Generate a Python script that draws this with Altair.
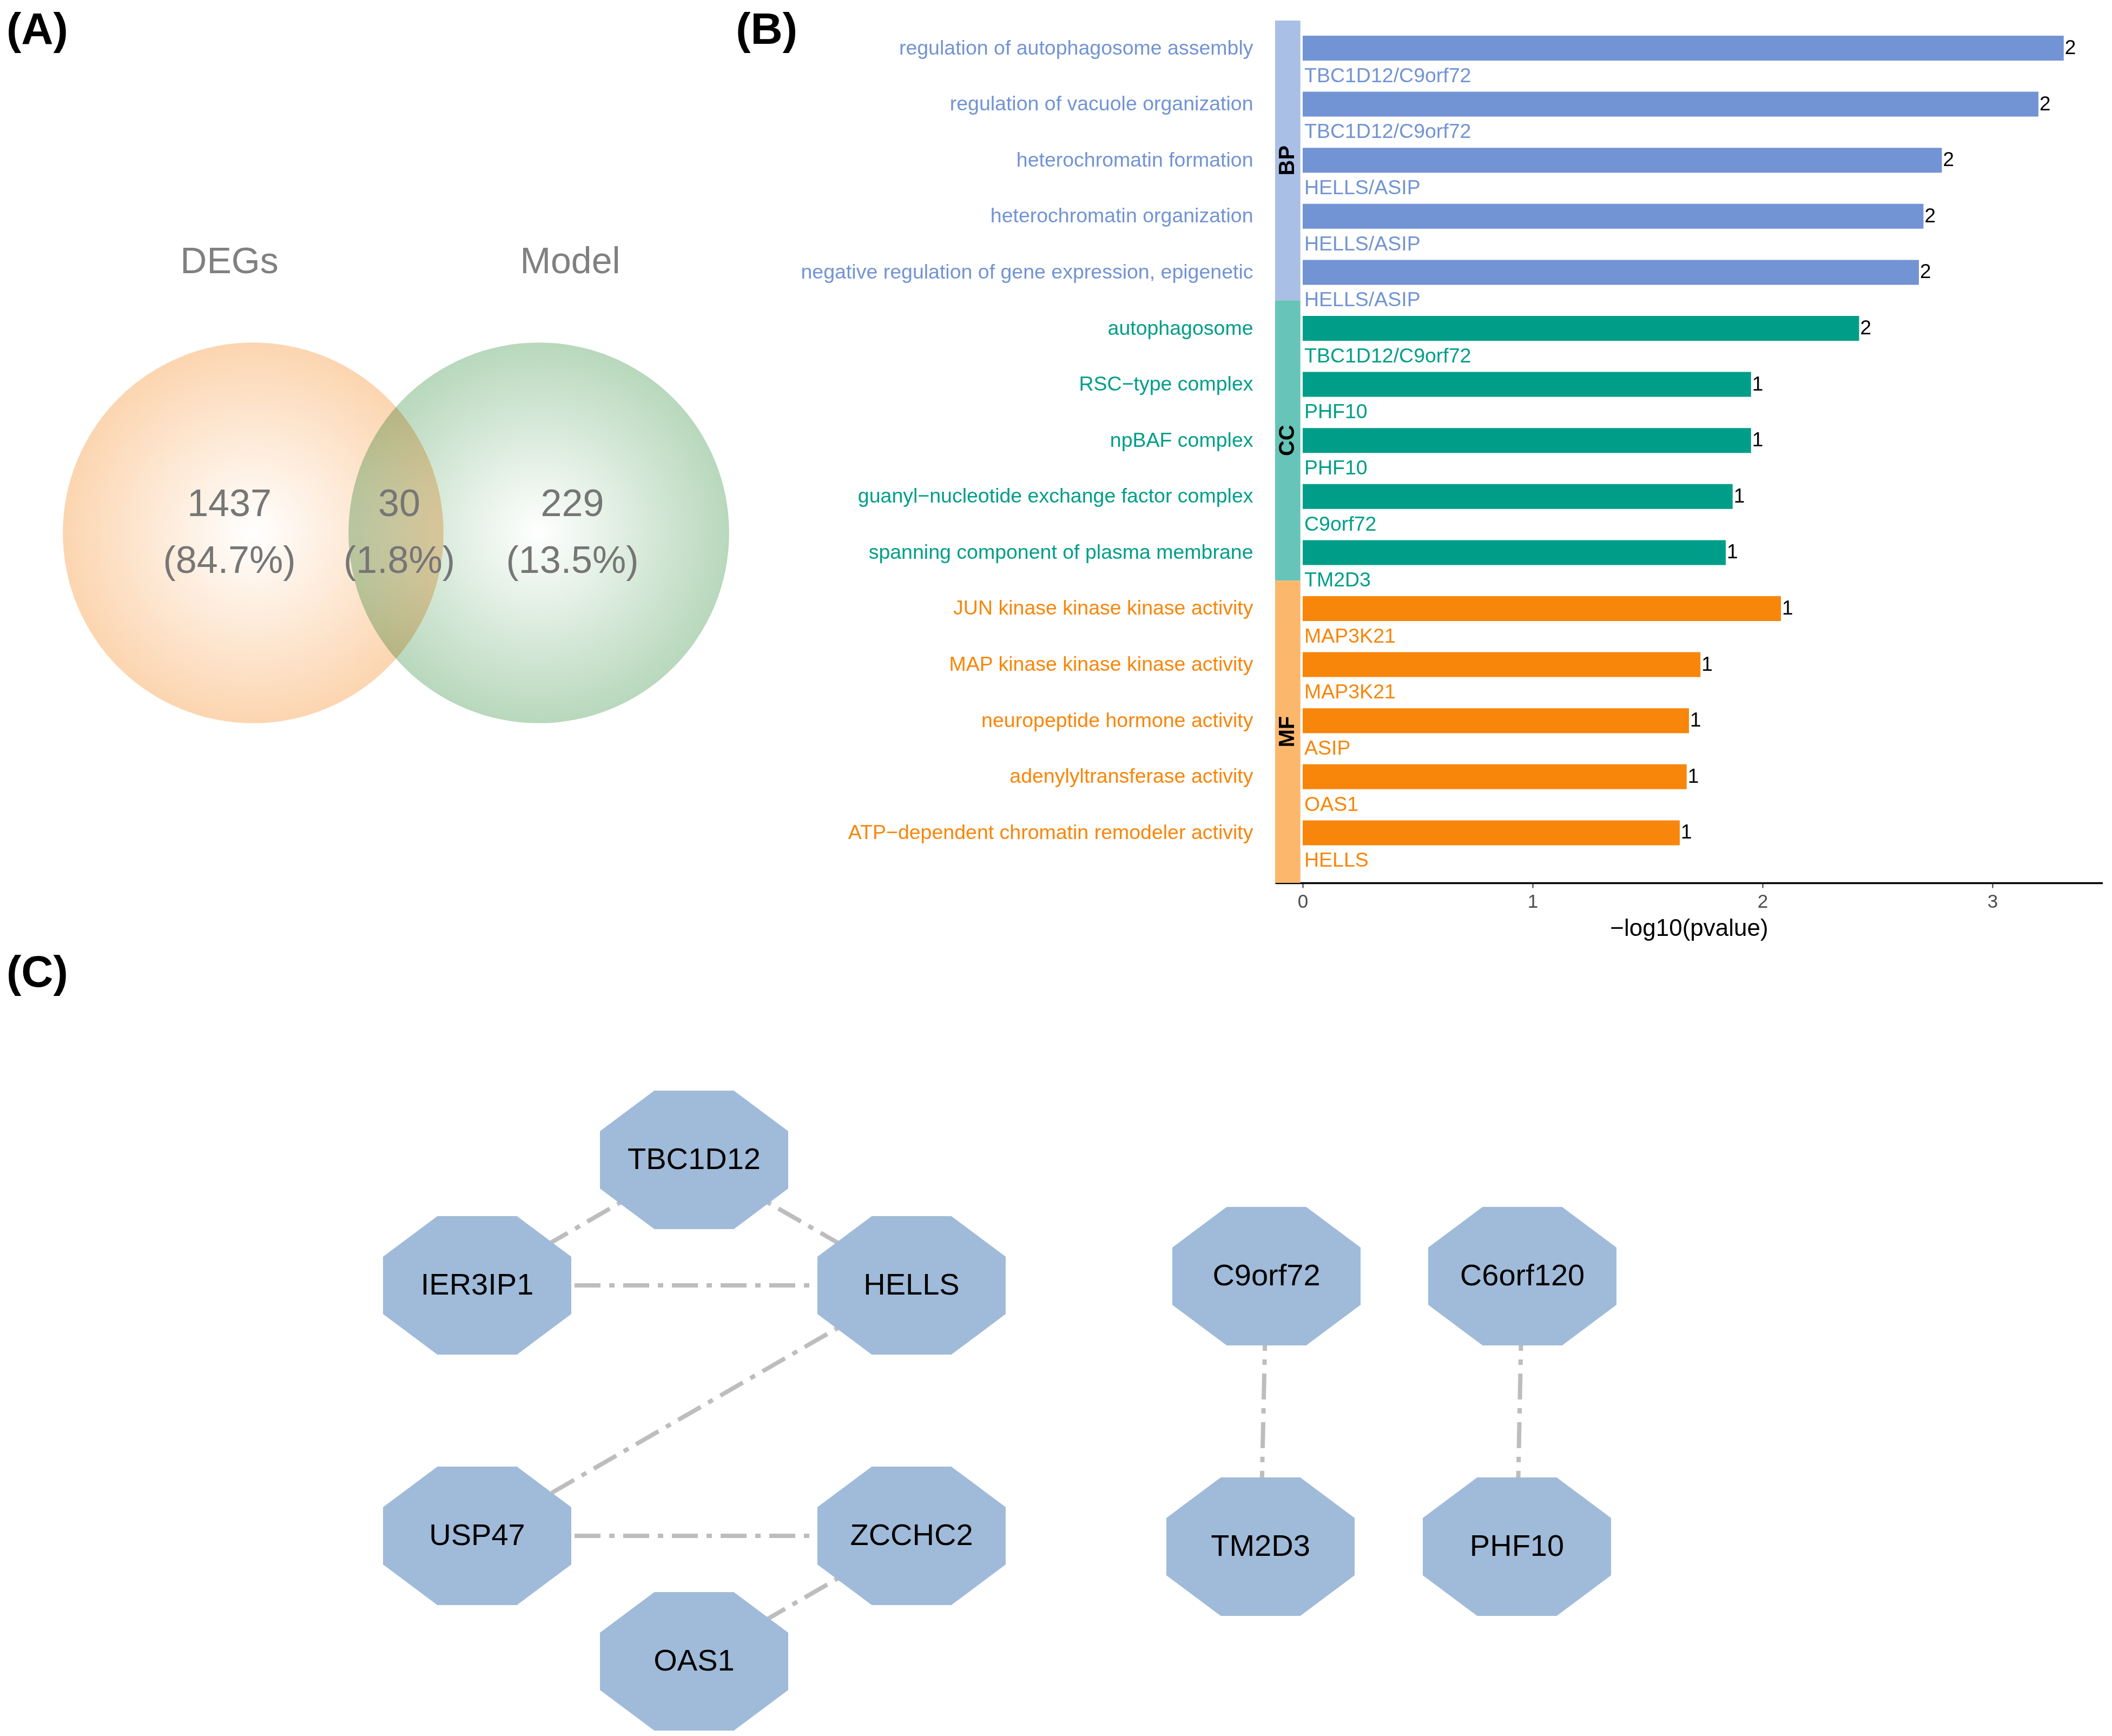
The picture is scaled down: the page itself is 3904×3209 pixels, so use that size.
import json
import altair as alt
import pandas as pd

FONT = "Liberation Sans"

# ---------------- data ----------------
# (A) Venn diagram
venn_set_names = ["DEGs", "Model"]
venn_region_counts = ["1437", "30", "229"]
venn_region_percents = ["(84.7%)", "(1.8%)", "(13.5%)"]

# (B) GO enrichment (top to bottom)
go_terms = [
    "regulation of autophagosome assembly",
    "regulation of vacuole organization",
    "heterochromatin formation",
    "heterochromatin organization",
    "negative regulation of gene expression, epigenetic",
    "autophagosome",
    "RSC\u2212type complex",
    "npBAF complex",
    "guanyl\u2212nucleotide exchange factor complex",
    "spanning component of plasma membrane",
    "JUN kinase kinase kinase activity",
    "MAP kinase kinase kinase activity",
    "neuropeptide hormone activity",
    "adenylyltransferase activity",
    "ATP\u2212dependent chromatin remodeler activity",
]
go_ontology = ["BP"] * 5 + ["CC"] * 5 + ["MF"] * 5
go_neglog10p = [3.31, 3.20, 2.78, 2.70, 2.68, 2.42, 1.95, 1.95, 1.87, 1.84,
                2.08, 1.73, 1.68, 1.67, 1.64]
go_counts = [2, 2, 2, 2, 2, 2, 1, 1, 1, 1, 1, 1, 1, 1, 1]
go_genes = ["TBC1D12/C9orf72", "TBC1D12/C9orf72", "HELLS/ASIP", "HELLS/ASIP",
            "HELLS/ASIP", "TBC1D12/C9orf72", "PHF10", "PHF10", "C9orf72",
            "TM2D3", "MAP3K21", "MAP3K21", "ASIP", "OAS1", "HELLS"]

# (C) PPI network
node_names = ["TBC1D12", "IER3IP1", "HELLS", "USP47", "ZCCHC2", "OAS1",
              "C9orf72", "C6orf120", "TM2D3", "PHF10"]
node_x = [1283, 882, 1685, 882, 1685, 1283, 2341, 2814, 2330, 2804]
node_y = [2136, 2368, 2368, 2831, 2831, 3063, 2351, 2351, 2851, 2851]
edge_from = ["TBC1D12", "TBC1D12", "IER3IP1", "HELLS", "USP47", "ZCCHC2",
             "C9orf72", "C6orf120"]
edge_to = ["IER3IP1", "HELLS", "HELLS", "USP47", "ZCCHC2", "OAS1",
           "TM2D3", "PHF10"]

# ---------------- styles ----------------
ONT = ["BP", "CC", "MF"]
ONT_DARK = ["#7294D4", "#009E88", "#F8860A"]
ONT_LIGHT = ["#AABFE5", "#66C5B8", "#FBB76C"]
TEXT_GREY = "#767676"

TOP_ROW_H = 1750          # Venn panel height
NET_TOP = 1766            # page y where the network panel begins

# ================= Panel A : Venn =================
XA = alt.Scale(domain=[8, 1475], nice=False, zero=False)
YA = alt.Scale(domain=[8, 8 + TOP_ROW_H], nice=False, zero=False, reverse=True)


def xa(f):
    return alt.X(f, type="quantitative", scale=XA, axis=None)


def ya(f):
    return alt.Y(f, type="quantitative", scale=YA, axis=None)


venn_df = pd.DataFrame({
    "set": venn_set_names,
    "cx": [468, 996], "cy": [985, 985],
    "lx": [424, 1054], "ly": [485, 485],
})
region_df = pd.DataFrame({
    "count": venn_region_counts,
    "pct": venn_region_percents,
    "rx": [424, 738, 1058],
    "cy": [933, 933, 933],
    "py": [1038, 1038, 1038],
})

R = 397
circle_size = 3.14159265 * R * R


def grad(col):
    return {"gradient": "radial",
            "stops": [{"offset": 0, "color": "#ffffff"},
                      {"offset": 1, "color": col}]}


deg_circle = alt.Chart(venn_df[venn_df["set"] == "DEGs"]).mark_circle(
    size=circle_size, fill=grad("#FCD5B0"), opacity=1, strokeWidth=0,
    blend="multiply"
).encode(x=xa("cx"), y=ya("cy"))

model_circle = alt.Chart(venn_df[venn_df["set"] == "Model"]).mark_circle(
    size=circle_size, fill=grad("#B8D8BC"), opacity=1, strokeWidth=0,
    blend="multiply"
).encode(x=xa("cx"), y=ya("cy"))

set_labels = alt.Chart(venn_df).mark_text(
    fontSize=68, color="#808080", baseline="middle", align="center"
).encode(x=xa("lx"), y=ya("ly"), text="set:N")

count_text = alt.Chart(region_df).mark_text(
    fontSize=70, color=TEXT_GREY, baseline="middle", align="center"
).encode(x=xa("rx"), y=ya("cy"), text="count:N")

pct_text = alt.Chart(region_df).mark_text(
    fontSize=70, color=TEXT_GREY, baseline="middle", align="center"
).encode(x=xa("rx"), y=ya("py"), text="pct:N")

panel_a_df = pd.DataFrame({"lab": ["(A)"], "x": [12], "y": [56]})
panel_b_df = pd.DataFrame({"lab": ["(B)"], "x": [1474], "y": [56]})

lab_a = alt.Chart(panel_a_df).mark_text(
    fontSize=82, fontWeight="bold", color="black", align="left", baseline="middle"
).encode(x=xa("x"), y=ya("y"), text="lab:N")
lab_b = alt.Chart(panel_b_df).mark_text(
    fontSize=82, fontWeight="bold", color="black", align="right", baseline="middle"
).encode(x=xa("x"), y=ya("y"), text="lab:N")

venn = alt.layer(deg_circle, model_circle, set_labels, count_text, pct_text,
                 lab_a, lab_b).properties(width=1467, height=TOP_ROW_H)

# ================= Panel B : GO bars =================
X_MIN, X_MAX = -0.12, 3.48
Y_MIN, Y_MAX = 0.218, 15.894
STRIP_X1 = -0.01
HALF_BAR = 0.222

go_df = pd.DataFrame({
    "term": go_terms,
    "ontology": go_ontology,
    "val": go_neglog10p,
    "cnt": [str(c) for c in go_counts],
    "genes": go_genes,
})
go_df["pos"] = range(1, len(go_df) + 1)
go_df["zero"] = 0.0

strip_rows = []
for i, o in enumerate(ONT):
    sub = go_df[go_df["ontology"] == o]
    start = sub["pos"].min() - 0.5 + (0.008 if i == 0 else 0)
    end = sub["pos"].max() + 0.5 if i < len(ONT) - 1 else Y_MAX
    strip_rows.append({"ontology": o, "s0": start, "s1": end,
                       "x0": X_MIN, "x1": STRIP_X1,
                       "mid": (start + end) / 2, "xm": (X_MIN + STRIP_X1) / 2})
strip_df = pd.DataFrame(strip_rows)

XB = alt.Scale(domain=[X_MIN, X_MAX], nice=False, zero=False)
YB = alt.Scale(domain=[Y_MIN, Y_MAX], nice=False, zero=False, reverse=True)

x_axis = alt.Axis(
    values=[0, 1, 2, 3], title="\u2212log10(pvalue)", grid=False,
    domainColor="black", domainWidth=3.5, tickColor="#333333", tickWidth=2,
    tickSize=9, labelFontSize=35, labelColor="#4D4D4D", labelPadding=8,
    labelFlush=False, titleFontSize=44, titleFontWeight="normal",
    titleColor="black", titlePadding=10,
)
label_expr = json.dumps(go_terms, ensure_ascii=False) + "[datum.value - 1]"
y_axis = alt.Axis(
    values=list(range(1, len(go_terms) + 1)), labelExpr=label_expr,
    title=None, grid=False, domain=False, ticks=False, labelFontSize=37.5,
    labelPadding=41, labelOverlap=False, labelFlush=False, labelLimit=2000,
    labelBaseline="middle", minExtent=882, maxExtent=882,
    labelColor={"condition": [
        {"test": "datum.value <= 5", "value": ONT_DARK[0]},
        {"test": "datum.value <= 10", "value": ONT_DARK[1]}],
        "value": ONT_DARK[2]},
)


def xb(f):
    return alt.X(f, type="quantitative", scale=XB, axis=x_axis)


def yb(f):
    return alt.Y(f, type="quantitative", scale=YB, axis=y_axis)


dark_color = alt.Color("ontology:N", scale=alt.Scale(domain=ONT, range=ONT_DARK),
                       legend=None)
light_color = alt.Color("ontology:N", scale=alt.Scale(domain=ONT, range=ONT_LIGHT),
                        legend=None)

bar_base = alt.Chart(go_df).transform_calculate(
    y0=f"datum.pos - {HALF_BAR}", y1=f"datum.pos + {HALF_BAR}",
    yg="datum.pos + 0.5",
)

bars = bar_base.mark_rect().encode(
    x=xb("zero"), x2="val:Q", y=yb("y0:Q"), y2="y1:Q", color=dark_color
)
count_lbl = bar_base.mark_text(
    align="left", baseline="middle", dx=2, fontSize=37, color="black"
).encode(x=xb("val"), y=yb("pos"), text="cnt:N")
gene_lbl = bar_base.mark_text(
    align="left", baseline="middle", dx=3, fontSize=37.5
).encode(x=xb("zero"), y=yb("yg:Q"), text="genes:N", color=dark_color)

strips = alt.Chart(strip_df).mark_rect().encode(
    x=xb("x0"), x2="x1:Q", y=yb("s0"), y2="s1:Q", color=light_color
)
strip_txt = alt.Chart(strip_df).mark_text(
    angle=270, fontSize=40, fontWeight="bold", color="black",
    align="center", baseline="middle"
).encode(x=xb("xm"), y=yb("mid"), text="ontology:N")

go_chart = alt.layer(strips, strip_txt, bars, count_lbl, gene_lbl).resolve_scale(
    color="independent"
).properties(width=1530, height=1624)

# ================= Panel C : network =================
XN = alt.Scale(domain=[8, 3886], nice=False, zero=False)
YN = alt.Scale(domain=[NET_TOP, 3201], nice=False, zero=False, reverse=True)


def xn(f):
    return alt.X(f, type="quantitative", scale=XN, axis=None)


def yn(f):
    return alt.Y(f, type="quantitative", scale=YN, axis=None)


nodes_df = pd.DataFrame({"name": node_names, "x": node_x, "y": node_y})
pos = {n: (x, y) for n, x, y in zip(node_names, node_x, node_y)}
edges_df = pd.DataFrame({
    "src": edge_from, "dst": edge_to,
    "x": [pos[a][0] for a in edge_from], "y": [pos[a][1] for a in edge_from],
    "x2": [pos[b][0] for b in edge_to], "y2": [pos[b][1] for b in edge_to],
})

OCTAGON = ("M-0.4224,-0.7356L0.4224,-0.7356L1,-0.3046L1,0.3046L0.4224,0.7356"
           "L-0.4224,0.7356L-1,0.3046L-1,-0.3046Z")

edges = alt.Chart(edges_df).mark_rule(
    color="#BDBDBD", strokeWidth=8, strokeDash=[48, 16, 10, 16]
).encode(x=xn("x"), y=yn("y"), x2="x2:Q", y2="y2:Q")

nodes = alt.Chart(nodes_df).mark_point(
    shape=OCTAGON, size=348 * 348, filled=True, fill="#A0BBD9", opacity=1,
    strokeWidth=0
).encode(x=xn("x"), y=yn("y"))

node_txt = alt.Chart(nodes_df).mark_text(
    fontSize=56, color="black", align="center", baseline="middle"
).encode(x=xn("x"), y=yn("y"), text="name:N")

panel_c_df = pd.DataFrame({"lab": ["(C)"], "x": [12], "y": [1791]})
lab_c = alt.Chart(panel_c_df).mark_text(
    fontSize=82, fontWeight="bold", color="black", align="left", baseline="middle"
).encode(x=xn("x"), y=yn("y"), text="lab:N")

network = alt.layer(edges, nodes, node_txt, lab_c).properties(
    width=3878, height=3201 - NET_TOP)

# ================= compose =================
top = alt.hconcat(venn, go_chart, spacing=0)
chart = alt.vconcat(top, network, spacing=0).properties(padding=0).configure(
    font=FONT
).configure_view(strokeWidth=0)

chart.save("out.html", embed_options={"renderer": "svg", "actions": False})
